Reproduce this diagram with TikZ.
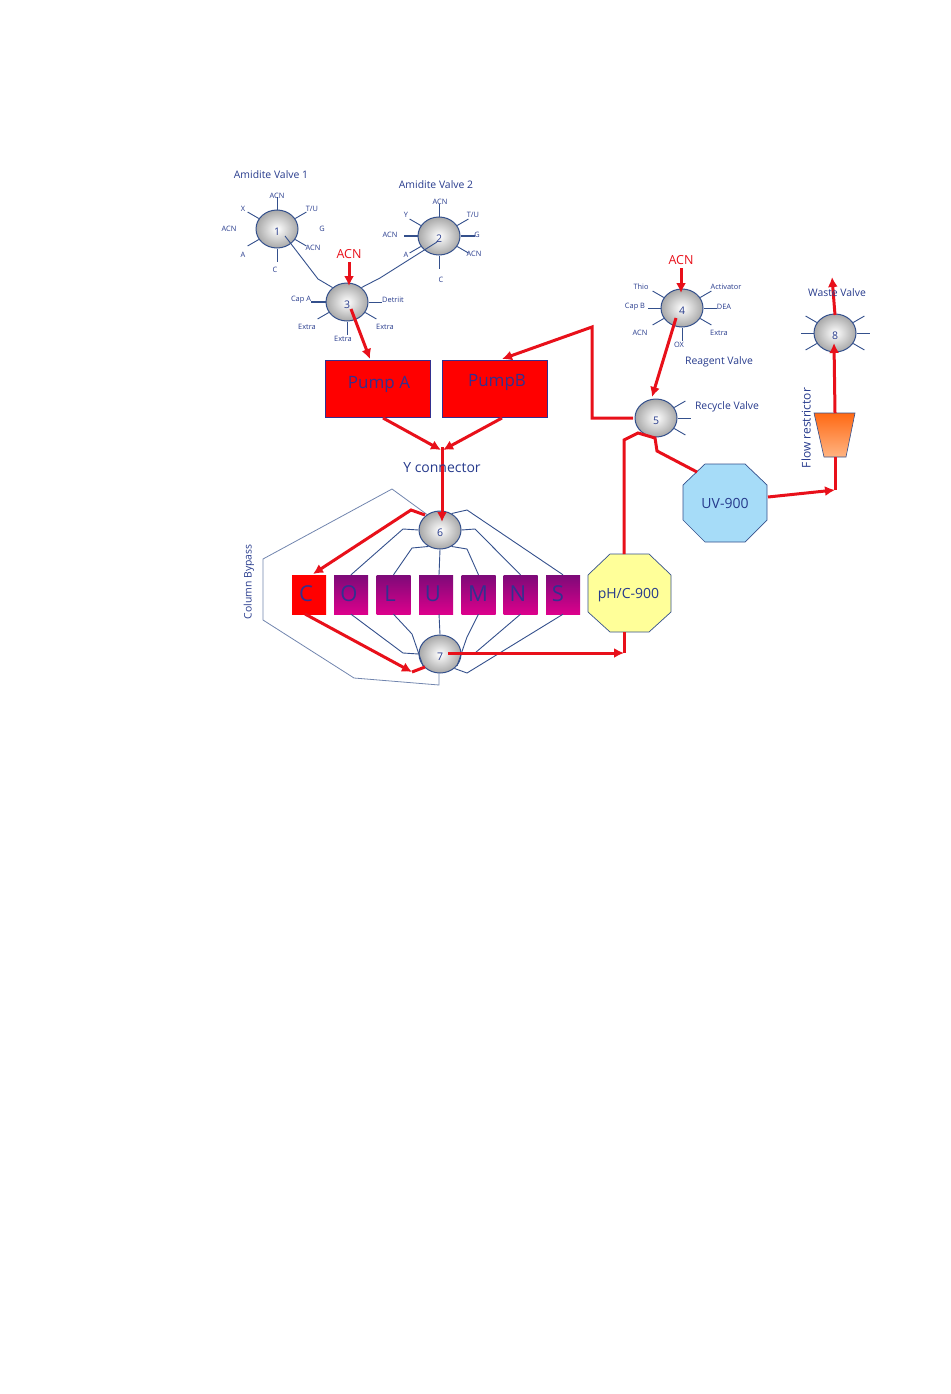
\documentclass[tikz,border=0pt]{standalone}
\usepackage{fontspec}
\setmainfont{Open Sans}
\usetikzlibrary{shapes.geometric,arrows.meta}
\definecolor{navy}{HTML}{263A8C}
\definecolor{pipeblue}{HTML}{34508C}
\definecolor{flowred}{HTML}{E8101A}
\definecolor{onred}{HTML}{33308F}
\tikzset{
  valve/.style={ellipse,draw=pipeblue,line width=1pt,minimum width=42pt,minimum height=38pt,inner sep=0pt,
    inner color=white,outer color=black!34},
  spoke/.style={pipeblue,line width=0.9pt},
  pipe/.style={pipeblue,line width=0.9pt},
  bypass/.style={pipeblue!70,line width=0.8pt},
  flow/.style={flowred,line width=3pt},
  flowtip/.style={flow,-{Latex[length=10pt,width=10pt]}},
  pump/.style={rectangle,draw=onred,fill=red,line width=1pt,minimum width=105pt,minimum height=57pt,inner sep=0pt},
  column/.style={rectangle,draw=none,minimum width=34pt,minimum height=39pt,inner sep=0pt,
    top color={rgb,255:red,125;green,10;blue,120},middle color={rgb,255:red,205;green,0;blue,135},bottom color={rgb,255:red,220;green,0;blue,140}},
  tiny/.style={navy,font=\fontsize{7.4}{8}\selectfont,inner sep=0pt,yshift=-0.5pt},
  title/.style={navy,font=\fontsize{10.4}{12}\selectfont,inner sep=0pt,yshift=-1pt},
  redlabel/.style={flowred,font=\fontsize{12.5}{14}\selectfont,inner sep=0pt,yshift=-0.5pt},
  number/.style={navy,font=\fontsize{10.5}{12}\selectfont,inner sep=0pt},
  letter/.style={onred,font=\fontsize{22}{24}\selectfont,inner sep=0pt},
  bigtext/.style={onred,font=\fontsize{17}{20}\selectfont,inner sep=0pt,yshift=-1pt},
  boxtext/.style={navy,font=\fontsize{14}{16}\selectfont,inner sep=0pt},
}
\begin{document}
\begin{tikzpicture}[x=1pt,y=-1pt]
\useasboundingbox (0,0) rectangle (950,1394);

% columns
\node[column,top color=red,middle color=red,bottom color=red] (cC) at (309,594.5) {};
\foreach \Name/\X in {cO/351,cL/393.5,cU/436,cM/478.5,cN/520.5,cS/563}{
	\node[column] (\Name) at (\X,594.5) {};
}
\foreach \X/\Txt in {306/C,349/O,390/L,433/U,478/M,518/N,558/S}{
	\node[letter] at (\X,594) {\Txt};
}

% valves
\foreach \Name/\Num/\X/\Y in {v1/1/277/229,v2/2/439/236,v3/3/347/302,v4/4/682/308,v5/5/656/418,v6/6/440/530,v7/7/440/654,v8/8/835/333}{
	\node[valve] (\Name) at (\X,\Y) {};
	\node[number] at (\X,\Y+3) {\Num};
}

% bypass round the columns
\coordinate (b7) at (439,685);
\draw[bypass] (v6.130) -- (392,489) -- (263,559) -- (263,620) -- (354,678) -- (b7) -- (439,673);

% spokes
\foreach \Name/\Angles in {v1/{90,150,30,-30,-90,210},v2/{90,150,30,-30,-90,210},v3/{210,-30,-90,0},v4/{150,30,0,180,210,-30,-90},v5/{30,0,-30},v8/{150,30,0,180,210,-30}}{
	\foreach \Ang in \Angles{
		\draw[spoke] (\Name.\Ang) -- +(\Ang:13pt);
	}
}
\draw[spoke,line width=1.5pt] (v2.0) -- +(0:14pt);
\draw[spoke,line width=1.5pt] (v2.180) -- +(180:14pt);
\draw[spoke,line width=1.5pt] (v3.180) -- +(180:15pt);

% valve 6 and 7 to the columns
\foreach \Col/\Bx/\By/\Ang in {cO/403/529/180,cL/412/548/235,cM/467/549/305,cN/475/529/0,cS/467/510/55}{
	\draw[pipe] (v6.\Ang) -- (\Bx,\By) -- (\Col.north);
}
\foreach \Col/\Bx/\By/\Ang in {cO/403/653/180,cL/412/634/215,cM/467/637/325,cN/475/653/0,cS/467/673/-45}{
	\draw[pipe] (v7.\Ang) -- (\Bx,\By) -- (\Col.south);
}
\draw[pipe] (v6.south) -- (439,575);
\draw[pipe] (v7.north) -- (439,614);

% pumps, boxes
\node[pump] (pA) at (377.5,388.5) {};
\node[pump] (pB) at (494.5,388.5) {};
\node[bigtext] at (379,383) {Pump A};
\node[bigtext] at (497,381) {PumpB};

\draw[draw=pipeblue,line width=0.7pt,fill={rgb,255:red,166;green,220;blue,248}] (705,464) -- (745,464) -- (767,485) -- (767,520) -- (745,542) -- (705,542) -- (683,520) -- (683,485) -- cycle;
\node[boxtext] (uv) at (725,503.5) {UV-900};
\draw[draw=pipeblue,line width=0.7pt,fill={rgb,255:red,255;green,255;blue,153}] (610,554) -- (649,554) -- (671,575) -- (671,612) -- (649,632) -- (610,632) -- (588,612) -- (588,575) -- cycle;
\node[boxtext] (ph) at (628.5,595) {pH/C-900};

\draw[draw=pipeblue,line width=0.6pt,top color={rgb,255:red,255;green,105;blue,20},bottom color={rgb,255:red,255;green,180;blue,130}] (814,413) -- (855,413) -- (846,457) -- (824,457) -- cycle;
\coordinate (frT) at (835,413);
\coordinate (frB) at (835,457);

% amidite lines
\draw[pipe] (285,236) -- (318,279) -- (v3.135);
\draw[pipe] (437,242) -- (380,278) -- (v3.45);

% flow
\coordinate (a3) at (349,262);
\coordinate (a4) at (681,268);
\coordinate (s3) at (351,309);
\coordinate (s4) at (676,318);
\coordinate (yj) at (442,447);
\coordinate (s7) at (448,653);
\coordinate (j7) at (624,653);
\draw[flowtip] (a3) -- (349,286);
\draw[flowtip] (a4) -- (681,293);
\draw[flowtip] (s3) -- (370,359);
\draw[flowtip] (s4) -- (652,397);
\draw[flowtip] (383,418) -- (441,450);
\draw[flowtip] (502,418) -- (443,450);
\draw[flowtip] (yj) -- (442,522);
\draw[flowtip] (425,515) -- (411,510) -- (313,574);
\draw[flowtip] (305,614) -- (412,672);
\draw[flow] (412,672) -- (425,667);
\draw[flowtip] (s7) -- (j7);
\draw[flow] (j7) -- (624,632);
\draw[flow] (624,554) -- (624,440) -- (638,433) -- (655,438) -- (657,451) -- (697,472);
\draw[flowtip] (633,418) -- (592,418) -- (592,327) -- (502,359);
\draw[flowtip] (768,497) -- (835,490);
\draw[flow] (frB) -- (835,490);
\draw[flowtip] (frT) -- (834,343);
\draw[flowtip] (835,315) -- (832,277);

% labels
\foreach \X/\Y/\Txt in {277/195/ACN,243/208/X,312/208/T\slash U,322/228/G,229/228/ACN,313/247/ACN,243/254/A,275/269/C,
	440/201/ACN,406/214/Y,473/214/T\slash U,477/234/G,390/234/ACN,406/254/A,474/253/ACN,441/279/C,
	301/299/Cap A,393/299/Detriit,307/326/Extra,385/326/Extra,343/338/Extra,
	641/286/Thio,726/286/Activator,635/306/Cap B,724/306/DEA,640/332/ACN,719/332/Extra,679/344/OX}{
	\node[tiny] at (\X,\Y) {\Txt};
}
\foreach \X/\Y/\Txt in {271/174/Amidite Valve 1,436/184/Amidite Valve 2,719/361/Reagent Valve,727/406/Recycle Valve,837/292/Waste Valve}{
	\node[title] at (\X,\Y) {\Txt};
}
\node[redlabel] at (349,254) {ACN};
\node[redlabel] at (681,260) {ACN};
\node[navy,font=\fontsize{14}{16}\selectfont,inner sep=0pt,yshift=-1pt] at (442,467) {Y connector};
\node[title,rotate=90] at (249,581) {Column Bypass};
\node[title,rotate=90,font=\fontsize{12}{14}\selectfont] at (806,427) {Flow restrictor};

\end{tikzpicture}
\end{document}
